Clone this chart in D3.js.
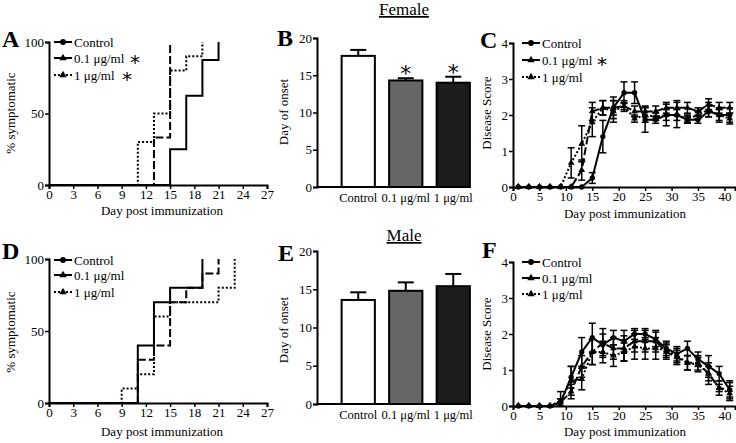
<!DOCTYPE html>
<html><head><meta charset="utf-8">
<script src="https://cdn.jsdelivr.net/npm/d3@7"></script>
<style>
body{margin:0;background:#fff}
svg{display:block}
text{font-family:"Liberation Serif","Times New Roman",serif;fill:#000}
</style>
</head><body><svg id="c" width="736" height="443"></svg>
<script>
// ---------- DATA ----------
const groups = ["Control", "0.1 μg/ml", "1 μg/ml"];
// Female % symptomatic (step points: day, %)
const survF_days = [[0,15,17,19,21],[0,13,15],[0,11,13,15,17,19]];
const survF_pct  = [[0,25,62.5,87.5,100],[0,33.3,100],[0,30,50,80,90,100]];
// Male % symptomatic
const survM_days = [[0,11,13,15,19],[0,11,13,15,17,19,21],[0,9,11,13,15,21,23]];
const survM_pct  = [[0,40,70,80,100],[0,30,40,70,80,90,100],[0,10,20,60,70,80,100]];
const survXTicks = [0,3,6,9,12,15,18,21,24,27];
const survYTicks = [0,50,100];
// Day of onset
const onsetF_mean = [17.6, 14.3, 14.0];
const onsetF_sem  = [0.8, 0.3, 0.8];
const onsetF_sig  = [false, true, true];
const onsetM_mean = [13.6, 14.8, 15.4];
const onsetM_sem  = [1.0, 1.1, 1.6];
const onsetM_sig  = [false, false, false];
const onsetYTicks = [0,5,10,15,20];
// Disease score
const scoreDays = [1,3,5,7,9,11,13,15,17,19,21,23,25,27,29,31,33,35,37,39,41];
const scoreF_ctrl = [0,0,0,0,0,0,0,0.25,1.4,2.2,2.62,2.62,1.87,1.87,2.0,2.0,1.87,1.87,2.1,2.0,2.0];
const scoreF_ctrl_err = [0,0,0,0,0,0,0,0.15,0.45,0.3,0.3,0.3,0.35,0.1,0.3,0.35,0.1,0.1,0.15,0.2,0.2];
const scoreF_lo = [0,0,0,0,0,0,0.47,2.1,2.2,2.2,2.25,2.1,2.1,2.1,2.2,2.2,2.2,2.1,2.3,2.2,2.2];
const scoreF_lo_err = [0,0,0,0,0,0,0.28,0.25,0.2,0.2,0.15,0.15,0.15,0.15,0.15,0.2,0.15,0.1,0.15,0.15,0.15];
const scoreF_hi = [0,0,0,0,0,0.67,1.2,1.8,2.2,2.1,2.25,1.9,2.0,1.95,2.0,2.0,1.9,2.0,2.15,2.0,1.9];
const scoreF_hi_err = [0,0,0,0,0,0.42,0.5,0.4,0.2,0.3,0.1,0.1,0.2,0.1,0.15,0.15,0.1,0.1,0.2,0.15,0.15];
const scoreM_ctrl = [0,0,0,0,0.1,0.8,1.5,1.9,1.7,1.9,1.8,2.0,2.0,1.85,1.6,1.45,1.6,1.3,1.1,0.9,0.45];
const scoreM_ctrl_err = [0,0,0,0,0.1,0.3,0.4,0.4,0.3,0.2,0.3,0.15,0.15,0.2,0.2,0.2,0.2,0.2,0.3,0.2,0.25];
const scoreM_lo = [0,0,0,0,0.1,0.4,1.1,1.5,1.75,1.6,1.6,1.8,1.8,1.8,1.5,1.35,1.2,1.2,0.9,0.5,0.45];
const scoreM_lo_err = [0,0,0,0,0.1,0.2,0.3,0.35,0.4,0.3,0.35,0.3,0.3,0.3,0.2,0.2,0.2,0.2,0.3,0.1,0.2];
const scoreM_hi = [0,0,0,0,0.15,0.7,0.75,1.5,1.5,1.4,1.5,1.65,1.6,1.6,1.55,1.4,1.2,1.15,0.9,0.5,0.35];
const scoreM_hi_err = [0,0,0,0,0.25,0.4,0.3,0.35,0.3,0.3,0.25,0.35,0.3,0.3,0.2,0.2,0.2,0.2,0.2,0.2,0.2];
const scoreXTicks = [0,5,10,15,20,25,30,35,40];
const scoreYTicks = [0,1,2,3,4];
const legendStars = {A:[false,true,true], C:[false,true,false], D:[false,false,false], F:[false,false,false]};

// ---------- STYLE ----------
const dashes = [null, "8,3", "2,2"];
const markers = [d3.symbolCircle, d3.symbolTriangle, d3.symbolTriangle];
const barFills = ["#ffffff", "#666666", "#1c1c1c"];
const svg = d3.select("#c");
const FS = 13;

function styleAxis(g) {
  g.selectAll("path.domain").attr("stroke","#000").attr("stroke-width",2);
  g.selectAll(".tick line").attr("stroke","#000").attr("stroke-width",1.5);
  g.selectAll(".tick text").style("font-size", FS+"px").style("font-family","Liberation Serif").attr("fill","#000");
}
function letter(ch, x, y) {
  svg.append("text").attr("x",x).attr("y",y).text(ch)
    .style("font-size","24px").style("font-weight","bold");
}
function star(x, y, size) {
  svg.append("text").attr("x",x).attr("y",y).text("*")
    .style("font-family","DejaVu Sans").style("font-size",(size||20)+"px").attr("text-anchor","middle");
}
function ylabel(txt, x, y) {
  svg.append("text").attr("transform",`translate(${x},${y}) rotate(-90)`)
    .attr("text-anchor","middle").style("font-size",FS+"px").text(txt);
}
function xlabel(txt, x, y) {
  svg.append("text").attr("x",x).attr("y",y).attr("text-anchor","middle").style("font-size",FS+"px").text(txt);
}
function legend(x, ys, stars, starXs) {
  groups.forEach((gname,i)=>{
    const y = ys[i];
    svg.append("line").attr("x1",x).attr("x2",x+18).attr("y1",y).attr("y2",y)
      .attr("stroke","#000").attr("stroke-width",2).attr("stroke-dasharray",dashes[i]);
    svg.append("path").attr("d", d3.symbol().type(markers[i]).size(i===0?26:24)())
      .attr("transform",`translate(${x+9},${y})`).attr("fill","#000");
    svg.append("text").attr("x",x+20).attr("y",y+4.5).style("font-size","13px").text(gname);
    if (stars[i]) star(starXs[i], y+11, 20);
  });
}

function survPanel(cfg) {
  const x = d3.scaleLinear().domain([0,27]).range([cfg.x0,cfg.x1]);
  const y = d3.scaleLinear().domain([0,100]).range([cfg.yb,cfg.yt]);
  const line = d3.line().x(d=>x(d[0])).y(d=>y(d[1])).curve(d3.curveStepAfter);
  cfg.days.forEach((ds,i)=>{
    const pts = ds.map((d,j)=>[d, cfg.pct[i][j]]);
    svg.append("path").attr("d", line(pts)).attr("fill","none").attr("stroke","#000")
      .attr("stroke-width",2).attr("stroke-dasharray",dashes[i]);
  });
  const gx = svg.append("g").attr("transform",`translate(0,${cfg.yb})`)
    .call(d3.axisBottom(x).tickValues(survXTicks).tickSizeOuter(0).tickSize(4).tickPadding(1));
  styleAxis(gx);
  const gy = svg.append("g").attr("transform",`translate(${cfg.x0},0)`)
    .call(d3.axisLeft(y).tickValues(survYTicks).tickSizeOuter(0).tickSize(4).tickPadding(1));
  styleAxis(gy);
}

function barPanel(cfg) {
  const x = d3.scaleBand().domain(groups).range([cfg.x0+17.5, cfg.x0+160]).paddingInner(0.3).paddingOuter(0.15);
  const y = d3.scaleLinear().domain([0,20]).range([cfg.yb,cfg.yt]);
  groups.forEach((gname,i)=>{
    const cx = x(gname) + x.bandwidth()/2;
    const top = y(cfg.mean[i] + cfg.sem[i]);
    svg.append("line").attr("x1",cx).attr("x2",cx).attr("y1",y(cfg.mean[i])).attr("y2",top)
      .attr("stroke","#000").attr("stroke-width",2);
    svg.append("line").attr("x1",cx-8).attr("x2",cx+8).attr("y1",top).attr("y2",top)
      .attr("stroke","#000").attr("stroke-width",2);
    svg.append("rect").attr("x",x(gname)).attr("width",x.bandwidth())
      .attr("y",y(cfg.mean[i])).attr("height",cfg.yb - y(cfg.mean[i]))
      .attr("fill",barFills[i]).attr("stroke","#000").attr("stroke-width",2);
    if (cfg.sig[i]) star(cx, top + 3, 22);
    svg.append("text").attr("x",cx).attr("y",cfg.yb+15).attr("text-anchor","middle")
      .style("font-size","12.5px").text(gname);
  });
  svg.append("line").attr("x1",cfg.x0).attr("x2",x(groups[2])+x.bandwidth()+1)
    .attr("y1",cfg.yb).attr("y2",cfg.yb).attr("stroke","#000").attr("stroke-width",2);
  const gy = svg.append("g").attr("transform",`translate(${cfg.x0},0)`)
    .call(d3.axisLeft(y).tickValues(onsetYTicks).tickSizeOuter(0).tickSize(4).tickPadding(1));
  styleAxis(gy);
}

function scorePanel(cfg) {
  const x = d3.scaleLinear().domain([0,42]).range([cfg.x0,cfg.x1]);
  const y = d3.scaleLinear().domain([0,4]).range([cfg.yb,cfg.yt]);
  const line = d3.line().x(d=>x(d[0])).y(d=>y(d[1]));
  cfg.series.forEach((s,i)=>{
    const pts = scoreDays.map((d,j)=>[d, s[j], cfg.errs[i][j]]);
    pts.forEach(p=>{
      if (p[2] > 0) {
        const ya = y(p[1]+p[2]), yb2 = y(Math.max(0,p[1]-p[2]));
        svg.append("line").attr("x1",x(p[0])).attr("x2",x(p[0])).attr("y1",ya).attr("y2",yb2)
          .attr("stroke","#000").attr("stroke-width",1.5);
        [ya,yb2].forEach(yy=>svg.append("line").attr("x1",x(p[0])-3.5).attr("x2",x(p[0])+3.5)
          .attr("y1",yy).attr("y2",yy).attr("stroke","#000").attr("stroke-width",1.5));
      }
    });
    svg.append("path").attr("d", line(pts)).attr("fill","none").attr("stroke","#000")
      .attr("stroke-width",2).attr("stroke-dasharray",dashes[i]);
    pts.forEach(p=>{
      svg.append("path").attr("d", d3.symbol().type(markers[i]).size(i===0?22:20)())
        .attr("transform",`translate(${x(p[0])},${y(p[1])})`).attr("fill","#000");
    });
  });
  const gx = svg.append("g").attr("transform",`translate(0,${cfg.yb})`)
    .call(d3.axisBottom(x).tickValues(scoreXTicks).tickSizeOuter(0).tickSize(4).tickPadding(1));
  styleAxis(gx);
  const gy = svg.append("g").attr("transform",`translate(${cfg.x0},0)`)
    .call(d3.axisLeft(y).tickValues(scoreYTicks).tickFormat(d3.format("d")).tickSizeOuter(0).tickSize(4).tickPadding(1));
  styleAxis(gy);
}

// ---------- TITLES ----------
svg.append("text").attr("x",404).attr("y",15).attr("text-anchor","middle")
  .style("font-size","17px").style("text-decoration","underline").text("Female");
svg.append("text").attr("x",404).attr("y",241).attr("text-anchor","middle")
  .style("font-size","17px").style("text-decoration","underline").text("Male");

// ---------- PANEL A ----------
survPanel({x0:49, x1:267, yt:42, yb:185, days:survF_days, pct:survF_pct});
letter("A", 2, 47);
ylabel("% symptomatic", 15, 113);
xlabel("Day post immunization", 162, 215);
legend(54, [42,58,75], legendStars.A, [0,135,127]);

// ---------- PANEL B ----------
barPanel({x0:317, yt:38, yb:187, mean:onsetF_mean, sem:onsetF_sem, sig:onsetF_sig});
letter("B", 277, 46);
ylabel("Day of onset", 288, 112);

// ---------- PANEL C ----------
scorePanel({x0:513, x1:735, yt:43, yb:187,
  series:[scoreF_ctrl, scoreF_lo, scoreF_hi], errs:[scoreF_ctrl_err, scoreF_lo_err, scoreF_hi_err]});
letter("C", 480, 48);
ylabel("Disease Score", 491, 113);
xlabel("Day post immunization", 625, 218);
legend(522, [43,60,77], legendStars.C, [0,602,0]);

// ---------- PANEL D ----------
survPanel({x0:49, x1:267, yt:259, yb:403, days:survM_days, pct:survM_pct});
letter("D", 2, 259);
ylabel("% symptomatic", 15, 332);
xlabel("Day post immunization", 162, 436);
legend(54, [260,275,292], legendStars.D, [0,0,0]);

// ---------- PANEL E ----------
barPanel({x0:317, yt:251, yb:404, mean:onsetM_mean, sem:onsetM_sem, sig:onsetM_sig});
letter("E", 278, 261);
ylabel("Day of onset", 288, 330);

// ---------- PANEL F ----------
scorePanel({x0:513, x1:735, yt:262, yb:406,
  series:[scoreM_ctrl, scoreM_lo, scoreM_hi], errs:[scoreM_ctrl_err, scoreM_lo_err, scoreM_hi_err]});
letter("F", 482, 258);
ylabel("Disease Score", 491, 334);
xlabel("Day post immunization", 625, 436);
legend(522, [262,278,294], legendStars.F, [0,0,0]);
</script></body></html>
